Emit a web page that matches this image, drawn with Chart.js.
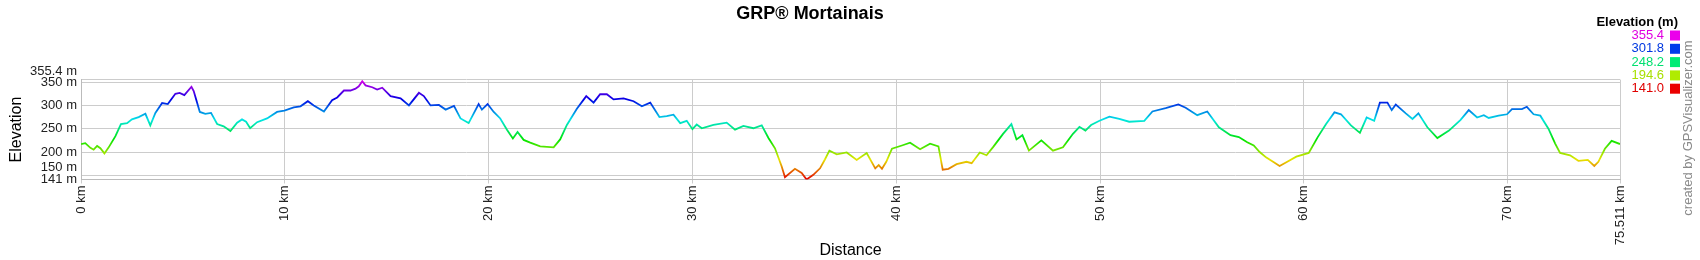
<!DOCTYPE html>
<html>
<head>
<meta charset="utf-8">
<title>GRP® Mortainais</title>
<script src="https://cdn.jsdelivr.net/npm/chart.js@4/dist/chart.umd.min.js"></script>
<style>
  html, body { margin: 0; padding: 0; background: #fff; }
  #wrap { width: 1700px; height: 260px; }
</style>
</head>
<body>
<div id="wrap"><canvas id="elevChart" width="1700" height="260"></canvas></div>
<script>
'use strict';

// distance along the route (km)
var distKm = [
    0, 0.21, 0.46, 0.62, 0.79, 0.95, 1.15, 1.36, 1.69, 1.96, 2.26, 2.5, 2.83, 3.16, 3.4, 3.65, 3.98, 4.26,
    4.63, 4.84, 5.07, 5.42, 5.53, 5.83, 6.1, 6.38, 6.68, 7.0, 7.33, 7.66, 7.9, 8.1, 8.3, 8.64, 9.13, 9.62,
    9.98, 10.44, 10.77, 11.13, 11.42, 11.92, 12.32, 12.57, 12.9, 13.22, 13.47, 13.63, 13.8, 13.96, 14.29,
    14.53, 14.78, 15.19, 15.68, 16.09, 16.58, 16.82, 17.15, 17.56, 17.89, 18.3, 18.62, 19.02, 19.51, 19.67,
    19.95, 20.25, 20.57, 20.9, 21.19, 21.42, 21.72, 22.04, 22.53, 23.19, 23.51, 23.84, 24.33, 24.79, 25.15,
    25.47, 25.8, 26.13, 26.62, 27.11, 27.52, 27.93, 28.38, 28.74, 29.07, 29.4, 29.72, 30.0, 30.21, 30.46,
    31.03, 31.68, 32.09, 32.5, 32.99, 33.4, 33.73, 34.05, 34.38, 34.54, 35.03, 35.36, 35.6, 35.93, 36.26,
    36.5, 36.72, 37.08, 37.57, 38.06, 38.55, 38.97, 39.14, 39.3, 39.51, 39.79, 40.28, 40.68, 41.17, 41.66,
    42.07, 42.28, 42.56, 42.96, 43.45, 43.7, 44.1, 44.43, 44.76, 45.24, 45.65, 45.9, 46.19, 46.51, 47.12,
    47.69, 48.18, 48.67, 48.99, 49.28, 49.56, 49.97, 50.46, 50.94, 51.43, 52.17, 52.57, 53.22, 53.84, 54.2,
    54.77, 55.26, 55.83, 56.4, 56.81, 57.22, 57.54, 57.83, 58.16, 58.49, 58.81, 59.14, 59.63, 60.24, 60.68,
    61.09, 61.5, 61.82, 62.31, 62.75, 63.08, 63.45, 63.73, 64.1, 64.31, 64.51, 65.0, 65.33, 65.62, 66.06,
    66.55, 67.12, 67.69, 68.09, 68.5, 68.83, 69.07, 69.56, 69.97, 70.21, 70.7, 70.94, 71.27, 71.6, 72.0,
    72.33, 72.57, 73.06, 73.47, 73.93, 74.25, 74.45, 74.77, 75.1, 75.511
];

// elevation (m)
var elevM = [
    217, 219, 209, 205, 213, 208, 197, 210, 234, 260, 262, 270, 275, 282, 257, 284, 305, 303,
    325, 327, 322, 340, 331, 286, 282, 284, 260, 255, 245, 263, 270, 265, 251, 264, 272, 286,
    289, 296, 298, 309, 300, 287, 311, 317, 332, 332, 336, 341, 352, 343, 339,
    334, 338, 320, 315, 300, 327, 320, 300, 301, 291, 299, 272, 262, 303, 291,
    303, 286, 272, 248, 229, 243, 226, 220, 212, 210, 227, 258, 293, 320, 306,
    324, 324, 313, 315, 309, 298, 306, 275, 277, 280, 262, 267, 249, 259, 251,
    258, 263, 248, 256, 251, 257, 230, 208, 169, 146, 164, 155, 141, 151, 165,
    184, 203, 195, 199, 183, 198, 165, 172, 164, 179, 207, 214, 220, 206, 218,
    212, 162, 164, 174, 179, 176, 199, 193, 211, 239, 260, 227, 236, 203, 225,
    203, 210, 239, 254, 246, 258, 267, 276, 271, 265, 267, 287, 294, 302, 295,
    279, 287, 253, 236, 232, 221, 214, 200, 188, 179, 170, 178, 190, 198, 232,
    260, 285, 281, 257, 241, 274, 267, 306, 306, 290, 302, 283, 271, 283, 253,
    230, 246, 269, 290, 274, 279, 273, 278, 281, 292, 292, 297, 281, 278, 250,
    218, 198, 193, 181, 183, 170, 179, 207, 224, 217
];

var yTicks = [141, 150, 200, 250, 300, 350, 355.4];
var xTicks = [0, 10, 20, 30, 40, 50, 60, 70, 75.511];
var legendLevels = ['355.4', '301.8', '248.2', '194.6', '141.0'];

var elevMin = 141, elevMax = 355.4;
var fontFam = "Arial, 'Liberation Sans', sans-serif";

// red -> yellow -> green -> cyan -> blue -> magenta, by elevation
function elevColor(e, light) {
    var t = (e - elevMin) / (elevMax - elevMin);
    t = Math.max(0, Math.min(1, t));
    return 'hsl(' + Math.round(t * 300) + ', 100%, ' + (light || 45) + '%)';
}

var points = distKm.map(function (d, i) { return { x: d, y: elevM[i] }; });

function lineGradient(context) {
    var chart = context.chart;
    var area = chart.chartArea;
    if (!area) { return '#000'; }
    var ys = chart.scales.y;
    var y0 = ys.getPixelForValue(elevMin), y1 = ys.getPixelForValue(elevMax);
    var g = chart.ctx.createLinearGradient(0, y0, 0, y1);
    for (var i = 0; i <= 20; i++) {
        g.addColorStop(i / 20, elevColor(elevMin + (elevMax - elevMin) * i / 20));
    }
    return g;
}

var sideBits = {
    id: 'sideBits',
    afterDraw: function (chart) {
        var ctx = chart.ctx;
        ctx.save();
        // elevation colour key
        ctx.textAlign = 'right';
        ctx.textBaseline = 'middle';
        ctx.fillStyle = '#000';
        ctx.font = 'bold 13px ' + fontFam;
        ctx.fillText('Elevation (m)', 1678, 22);
        ctx.font = '13px ' + fontFam;
        legendLevels.forEach(function (lv, i) {
            var y = 35.5 + i * 13.3;
            ctx.fillStyle = elevColor(parseFloat(lv), 44);
            ctx.fillText(lv, 1664, y);
            ctx.fillStyle = elevColor(parseFloat(lv), 46);
            ctx.fillRect(1670, y - 5, 10, 10);
        });
        // credit
        ctx.translate(1688, 128);
        ctx.rotate(-Math.PI / 2);
        ctx.textAlign = 'center';
        ctx.fillStyle = '#8a8a8a';
        ctx.font = '13px ' + fontFam;
        ctx.fillText('created by GPSVisualizer.com', 0, 0);
        ctx.restore();
    }
};

var ELEVCHART = document.getElementById('elevChart');

var elevChart = new Chart(ELEVCHART, {
    type: 'line',
    data: {
        datasets: [{
            label: 'Elevation',
            data: points,
            borderColor: lineGradient,
            borderWidth: 1.8,
            pointRadius: 0,
            tension: 0,
            fill: false
        }]
    },
    options: {
        responsive: false,
        animation: false,
        layout: { padding: { left: 0, right: 80, top: 0, bottom: 0 } },
        plugins: {
            legend: { display: false },
            tooltip: { enabled: false },
            title: {
                display: true,
                text: 'GRP® Mortainais',
                color: '#000',
                font: { family: fontFam, size: 18, weight: 'bold' },
                padding: { top: 3, bottom: 55 }
            }
        },
        scales: {
            x: {
                type: 'linear',
                min: 0,
                max: 75.511,
                afterBuildTicks: function (axis) {
                    axis.ticks = xTicks.map(function (v) { return { value: v }; });
                },
                afterFit: function (axis) { axis.height = 80.5; },
                ticks: {
                    autoSkip: false,
                    minRotation: 90,
                    maxRotation: 90,
                    padding: 2,
                    color: '#222',
                    font: { family: fontFam, size: 13 },
                    callback: function (v) { return v + ' km'; }
                },
                grid: { color: '#cccccc', tickLength: 4, tickColor: '#cccccc' },
                border: { color: '#bbbbbb' },
                title: {
                    display: true,
                    text: 'Distance',
                    color: '#000',
                    font: { family: fontFam, size: 16 },
                    padding: { top: 0, bottom: 0 }
                }
            },
            y: {
                min: elevMin,
                max: elevMax,
                afterBuildTicks: function (axis) {
                    axis.ticks = yTicks.map(function (v) { return { value: v }; });
                },
                afterFit: function (axis) { axis.width = 81; },
                ticks: {
                    autoSkip: false,
                    padding: 4,
                    color: '#222',
                    font: { family: fontFam, size: 13 },
                    callback: function (v) {
                        // nudge the crowded edge labels upward like the original
                        if (v === 355.4 || v === 150) { return [v + ' m', '']; }
                        return v + ' m';
                    }
                },
                grid: { color: '#cccccc', tickLength: 0 },
                border: { color: '#bbbbbb' },
                title: {
                    display: true,
                    text: 'Elevation',
                    color: '#000',
                    font: { family: fontFam, size: 16 },
                    padding: { top: 7, bottom: 0 }
                }
            }
        }
    },
    plugins: [sideBits]
});
</script>
</body>
</html>
